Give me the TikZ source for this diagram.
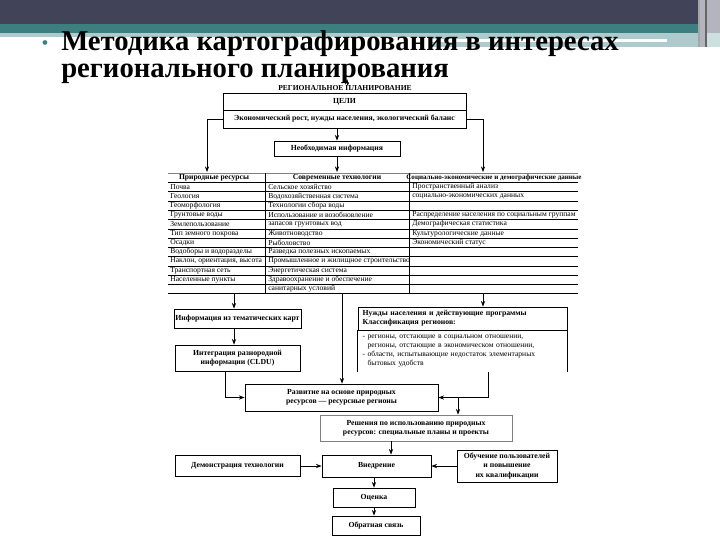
\documentclass[tikz,border=0pt]{standalone}
\usepackage{fontspec}
\setmainfont{Liberation Serif}
\usetikzlibrary{positioning, arrows.meta}

\definecolor{slidedark}{HTML}{414358}
\definecolor{slideteal}{HTML}{3D7F80}
\definecolor{slidelight}{HTML}{AECACC}
\definecolor{slidegray}{HTML}{B4B4BE}

\begin{document}
\begin{tikzpicture}[
    x=0.025cm, y=-0.025cm,
    box/.style={rectangle, draw, line width=0.6pt, fill=white, align=center, inner sep=1pt, font=\bfseries\fontsize{5.5}{6.5}\selectfont},
    wh/.style 2 args={minimum width=#1*0.025cm, minimum height=#2*0.025cm},
    cell/.style={anchor=west, inner sep=0pt, font=\fontsize{5.4}{6}\selectfont},
    head/.style={inner sep=0pt, font=\bfseries\fontsize{5.4}{6}\selectfont},
    rowline/.style={line width=0.4pt},
    arrow/.style={-{Stealth[length=4pt, width=3pt]}, line width=0.5pt}
  ]
  \useasboundingbox (0,0) rectangle (720,540);

  % slide header
  \fill[slidedark] (0,0) rectangle (720,24);
  \fill[slideteal] (0,24) rectangle (720,33);
  \fill[slidelight] (0,33) rectangle (707,37);
  \fill[slidelight] (430,33) rectangle (707,47);
  \fill[white] (430,39) rectangle (667,42);
  \fill[gray!70] (698,0) rectangle (700,47);
  \fill[slidegray] (700,0) rectangle (705,47);
  \fill[gray!80!black] (705,0) rectangle (707,47);
  \fill[slidegray] (707,0) rectangle (720,33);
  \fill[slidelight!60] (707,33) rectangle (720,47);

  % title
  \node[text=slideteal, font=\fontsize{14}{14}\selectfont] (bullet) at (45,45) {•};
  \node[anchor=west, align=left, inner sep=0pt, font=\bfseries\fontsize{20.4}{19.2}\selectfont] (title) at (61,57.5)
    {Методика картографирования в интересах\\регионального планирования};

  % goals
  \node[head] (plan) at (345,88) {РЕГИОНАЛЬНОЕ ПЛАНИРОВАНИЕ};
  \node[box, wh={243}{17}] (goals) at (344.5,101.5) {ЦЕЛИ};
  \node[box, wh={243}{18}] (goalsub) at (344.5,119) {Экономический рост, нужды населения, экологический баланс};
  \node[box, wh={126}{15}] (info) at (337,148.5) {Необходимая информация};

  \coordinate (up) at (347,79);
  \draw[arrow] (plan.north -| up) -- (up);

  % table
  \node[head] (hres) at (214,177.5) {Природные ресурсы};
  \node[head] (htech) at (337,177.5) {Современные технологии};
  \node[head, font=\bfseries\fontsize{5}{6}\selectfont] (hsoc) at (494,177.5) {Социально-экономические и демографические данные};

  \foreach \txt [count=\i] in {Почва, Геология, Геоморфология, Грунтовые воды, Землепользование,
      Тип земного покрова, Осадки, Водоборы и водоразделы, {Наклон, ориентация, высота},
      Транспортная сеть, Населенные пункты}
    \node[cell] (res\i) at (170,{187+9.27*(\i-1)}) {\txt};

  \foreach \txt [count=\i] in {Сельское хозяйство, Водохозяйственная система, Технологии сбора воды,
      Использование и возобновление, запасов грунтовых вод, Животноводство, Рыболовство,
      Разведка полезных ископаемых, Промышленное и жилищное строительство,
      Энергетическая система, Здравоохранение и обеспечение, санитарных условий}
    \node[cell] (tech\i) at (268,{187+9.27*(\i-1)}) {\txt};

  \foreach \r/\txt in {1/Пространственный анализ, 2/социально-экономических данных,
      4/Распределение населения по социальным группам, 5/Демографическая статистика,
      6/Культурологические данные, 7/Экономический статус}
    \node[cell] (soc\r) at (412,{187+9.27*(\r-1)}) {\txt};

  \draw[rowline, gray] (168,173) -- (578,173);
  \foreach \j in {0,...,12}
    \draw[rowline] (168,{182.5+9.27*\j}) -- (578,{182.5+9.27*\j});
  \draw[rowline] (265,173) -- (265,293.7);
  \draw[rowline] (409,173) -- (409,293.7);

  \coordinate (inres) at (207,172);
  \coordinate (insoc) at (483,172);
  \draw[arrow] (goalsub.west) -| (inres);
  \draw[arrow] (goalsub.east) -| (insoc);
  \draw[arrow] (goalsub.south -| info.north) -- (info.north);
  \draw[arrow] (info.south) -- (info.south |- inres);

  % lower part
  \node[box, wh={125}{19}] (mapinfo) at (237.5,318.5) {Информация из тематических карт};
  \node[box, wh={125}{26}] (integr) at (237.5,358) {Интеграция разнородной\\информации (CLDU)};
  \node[box, wh={209}{23}, align=left, text width=200*0.025cm] (needs) at (462.5,318.5)
    {Нужды населения и действующие программы\\Классификация регионов:};
  \node[align=left, inner sep=1pt, font=\fontsize{5.4}{6.4}\selectfont, text width=200*0.025cm, minimum height=42*0.025cm]
    (classes) at (462.5,351)
    {- регионы, отстающие в социальном отношении,\\
     \hphantom{- }регионы, отстающие в экономическом отношении,\\
     - области, испытывающие недостаток элементарных\\
     \hphantom{- }бытовых удобств};
  \draw[line width=0.6pt] (needs.south west) -- (classes.south west -| needs.west);
  \draw[line width=0.6pt] (needs.south east) -- (classes.south east -| needs.east);

  \node[box, wh={193}{27}] (develop) at (341.5,397.5) {Развитие на основе природных\\ресурсов --- ресурсные регионы};
  \node[box, wh={192}{26}, draw=gray] (decide) at (416,428) {Решения по использованию природных\\ресурсов: специальные планы и проекты};
  \node[box, wh={109}{22}] (implement) at (376.5,466) {Внедрение};
  \node[box, wh={125}{21}] (demo) at (237.5,466) {Демонстрация технологии};
  \node[box, wh={100}{32}] (train) at (507,466) {Обучение пользователей\\и повышение\\их квалификации};
  \node[box, wh={82}{19}] (assess) at (374,497.5) {Оценка};
  \node[box, wh={88}{19}] (feedback) at (376,525.5) {Обратная связь};

  \coordinate (tbl) at (234,293.7);
  \coordinate (tbc) at (342,293.7);
  \coordinate (tbr) at (483,293.7);
  \coordinate (br) at (488,397.5);
  \coordinate (brd) at (458,397.5);
  \coordinate (dv) at (391,441);

  \draw[arrow] (tbl) -- (tbl |- mapinfo.north);
  \draw[arrow] (mapinfo.south -| tbl) -- (integr.north -| tbl);
  \draw[arrow] (tbc) -- (tbc |- develop.north);
  \draw[arrow] (tbr) -- (tbr |- needs.north);
  \draw[arrow] ([xshift=-0.3cm]integr.south) |- (develop.west);
  \draw[arrow] (br |- classes.south) -- (br) -- (develop.east);
  \draw[arrow] (brd) -- (brd |- decide.north);
  \draw[arrow] (dv) -- (dv |- implement.north);
  \draw[arrow] (demo.east) -- (implement.west);
  \draw[arrow] (train.west) -- (implement.east);
  \draw[arrow] (implement.south -| assess.north) -- (assess.north);
  \draw[arrow] (assess.south) -- (assess.south |- feedback.north);
\end{tikzpicture}
\end{document}
